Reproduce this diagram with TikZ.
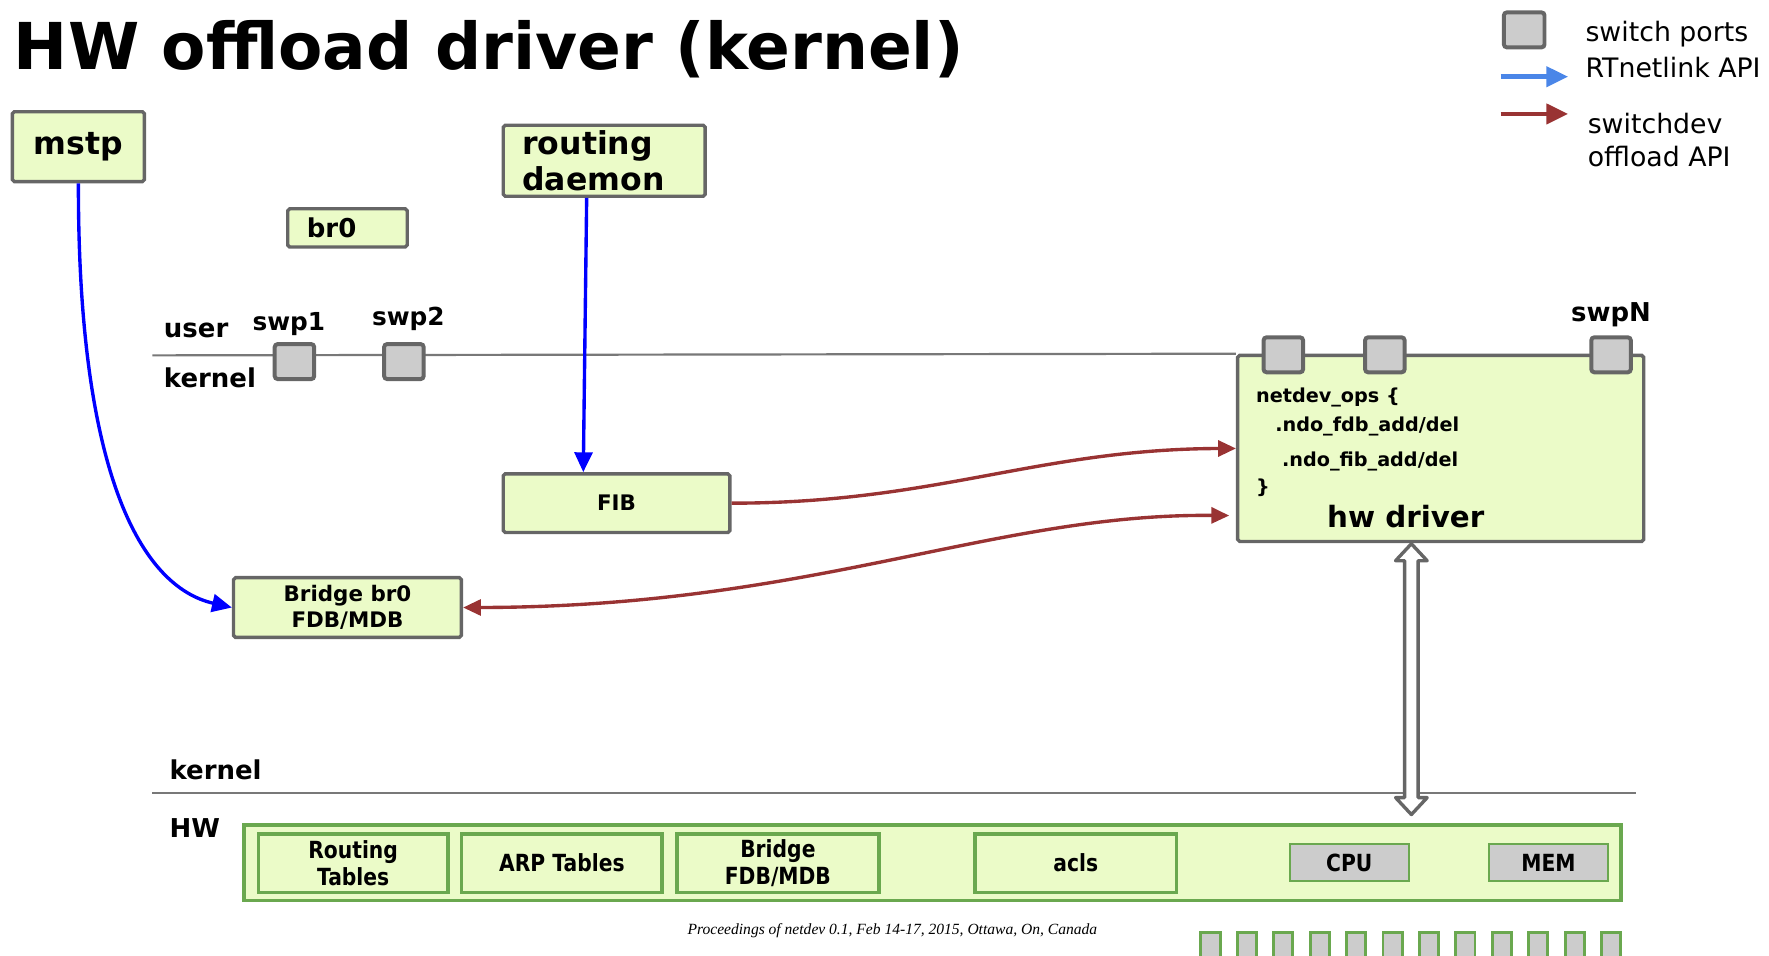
\documentclass[tikz,border=0pt]{standalone}
\usepackage{fontspec}
\setmainfont{DejaVu Sans}
\newfontfamily\condfont[FakeStretch=0.86]{DejaVu Sans}
\newfontfamily\procfont{Liberation Serif}
\usepackage{tikz}
\usetikzlibrary{arrows.meta}
\definecolor{boxfill}{RGB}{235,251,200}
\definecolor{boxline}{RGB}{102,102,102}
\definecolor{portfill}{RGB}{204,204,204}
\definecolor{hwgreen}{RGB}{106,168,79}
\definecolor{apiblue}{RGB}{0,0,255}
\definecolor{legendblue}{RGB}{74,134,232}
\definecolor{offloadred}{RGB}{153,51,51}
\definecolor{layerline}{RGB}{120,120,120}

\tikzset{
    box/.style={draw=boxline, fill=boxfill, line width=1.7pt, rounded corners=1pt, inner sep=0pt, font=\bfseries},
    port/.style={draw=boxline, fill=portfill, line width=2pt, rounded corners=1.5pt, inner sep=0pt, minimum width=0.7cm, minimum height=0.62cm},
    hwbox/.style={draw=hwgreen, fill=boxfill, line width=1.8pt, inner sep=0pt, align=center, minimum height=1.04cm, font=\condfont\bfseries\fontsize{11.9}{13.5}\selectfont},
    chip/.style={draw=hwgreen, fill=portfill, line width=1pt, inner sep=0pt, minimum height=0.66cm, font=\condfont\bfseries\fontsize{11.9}{13.5}\selectfont},
    hwpin/.style={draw=hwgreen, fill=portfill, line width=1.5pt, inner sep=0pt, minimum width=0.34cm, minimum height=0.5cm},
    lbl/.style={inner sep=0pt, font=\bfseries\fontsize{13.1}{15}\selectfont},
    legend/.style={inner sep=0pt, anchor=west, align=left, font=\fontsize{13.5}{16.5}\selectfont},
    ops/.style={inner sep=0pt, anchor=west, font=\bfseries\fontsize{9.7}{11}\selectfont},
    layer/.style={draw=layerline, line width=1.1pt},
    rtnl/.style={draw=apiblue, line width=1.7pt, -{Triangle[length=10pt,width=9pt]}},
    offload/.style={draw=offloadred, line width=1.7pt, -{Triangle[length=9pt,width=8pt]}},
}

\begin{document}
\begin{tikzpicture}[x=0.02cm, y=-0.02cm]
    \useasboundingbox (0,0) rectangle (1568,847);

    % title and legend
    \node[anchor=base west, inner sep=0pt, font=\bfseries\fontsize{32.6}{38}\selectfont] (title) at (12,62) {HW offload driver (kernel)};
    \node[port, minimum width=0.72cm] (lgport) at (1351,26.5) {};
    \node[legend] (lgports) at (1405,30) {switch ports};
    \node[legend] (lgrtnl) at (1405,60) {RTnetlink API};
    \node[legend] (lgswdev) at (1407,124) {switchdev\\offload API};
    \coordinate (lgb1) at (1330,68);
    \coordinate (lgb2) at (1390,68);
    \coordinate (lgr1) at (1330,101);
    \coordinate (lgr2) at (1390,101);
    \draw[draw=legendblue, line width=2.3pt, -{Triangle[length=11pt,width=10pt]}] (lgb1) -- (lgb2);
    \draw[draw=offloadred, line width=2.3pt, -{Triangle[length=11pt,width=10pt]}] (lgr1) -- (lgr2);

    % user space
    \node[box, minimum width=2.34cm, minimum height=1.24cm, font=\bfseries\fontsize{15.9}{18}\selectfont] (mstp) at (69.5,130) {\raisebox{-0.06cm}{mstp}};
    \node[box, minimum width=2.12cm, minimum height=0.68cm, inner xsep=0.34cm, text width=1.44cm, align=left, font=\bfseries\fontsize{13.1}{15}\selectfont] (br0) at (308,202) {br0};
    \node[box, minimum width=3.58cm, minimum height=1.26cm, inner xsep=0.34cm, text width=2.9cm, align=left, font=\bfseries\fontsize{15.9}{18.2}\selectfont] (routing) at (535.5,142.5) {routing\\daemon};

    % user / kernel boundary
    \node[box, minimum width=7.2cm, minimum height=3.3cm] (hw) at (1277,397.5) {};
    \coordinate (ul) at (135,315);
    \draw[layer] (ul) -- (hw.north west);
    \node[lbl, anchor=west] (user) at (145,293) {user};
    \node[lbl, anchor=west] (kern) at (145,335) {kernel};
    \node[lbl, font=\bfseries\fontsize{12.5}{14}\selectfont] (swp1l) at (256,287) {swp1};
    \node[lbl, font=\bfseries\fontsize{12.5}{14}\selectfont] (swp2l) at (362,283) {swp2};
    \node[lbl] (swpNl) at (1428,279) {swpN};
    \node[port] (swp1) at (261,320.5) {};
    \node[port] (swp2) at (358,320.5) {};
    \node[port] (hwp1) at (1137.5,314.5) {};
    \node[port] (hwp2) at (1227.5,314.5) {};
    \node[port] (hwpN) at (1428,314.5) {};

    % hw driver text
    \node[ops] (ops1) at (1113,352) {netdev\_ops \{};
    \node[ops] (ops2) at (1130,378) {.ndo\_fdb\_add/del};
    \node[ops] (ops3) at (1136,409) {.ndo\_fib\_add/del};
    \node[ops] (ops4) at (1113,432) {\}};
    \node[inner sep=0pt, font=\bfseries\fontsize{14.8}{17}\selectfont] (hwname) at (1246,458) {hw driver};

    % kernel tables
    \node[box, minimum width=4.02cm, minimum height=1.04cm, font=\bfseries\fontsize{10.8}{12.5}\selectfont] (fib) at (546.5,446) {FIB};
    \node[box, minimum width=4.04cm, minimum height=1.06cm, align=center, font=\bfseries\fontsize{10.8}{12.8}\selectfont] (bridge) at (308,538.5) {Bridge br0\\FDB/MDB};

    % connectors
    \draw[rtnl] (mstp.south) .. controls (69,420) and (125,520) .. (bridge.west);
    \draw[rtnl] ([xshift=-0.31cm]routing.south) -- ([xshift=-0.59cm]fib.north);
    \draw[offload] (fib.east) .. controls (830,446) and (920,398) .. (hw.west);
    \draw[offload, {Triangle[length=9pt,width=8pt]}-{Triangle[length=9pt,width=8pt]}] ([xshift=-0.12cm, yshift=-1.19cm]hw.west) .. controls (880,455) and (720,538) .. (bridge.east);

    % kernel / HW boundary
    \coordinate (kl) at (135,703);
    \coordinate (kr) at (1450,703);
    \draw[layer] (kl) -- (kr);
    \node[lbl, anchor=west] (kern2) at (150,682) {kernel};
    \node[lbl, anchor=west] (hwl) at (150,734) {HW};

    % hardware
    \node[hwbox, minimum width=24.42cm, minimum height=1.34cm] (hwblk) at (826.5,764.5) {};
    \node[hwbox, minimum width=3.36cm] (rtab) at (313,765) {Routing\\Tables};
    \node[hwbox, minimum width=3.56cm] (arp) at (498,765) {ARP Tables};
    \node[hwbox, minimum width=3.58cm] (hwbridge) at (689.5,765) {Bridge\\FDB/MDB};
    \node[hwbox, minimum width=3.58cm] (acls) at (953.5,765) {acls};
    \node[chip, minimum width=2.12cm] (cpu) at (1196,764.5) {CPU};
    \node[chip, minimum width=2.1cm] (mem) at (1372.5,764.5) {MEM};

    % hw driver <-> HW
    \coordinate (dtop) at (1251,482);
    \coordinate (dbot) at (1251,722);
    \draw[draw=boxline, fill=white, line width=1.7pt, line join=round] (dtop) -- ++(14,15) -- ++(-8,0) -- ++(0,210) -- ++(8,0) -- (dbot) -- ++(-14,-15) -- ++(8,0) -- ++(0,-210) -- ++(-8,0) -- cycle;

    % footer and pins
    \node[inner sep=0pt, font=\procfont\itshape\fontsize{7.85}{9}\selectfont] (proc) at (791,825) {Proceedings of netdev 0.1, Feb 14-17, 2015, Ottawa, On, Canada};
    \foreach \i in {0,...,11}
        \node[hwpin] (pin\i) at (1073+\i*32.27,839) {};
\end{tikzpicture}
\end{document}
